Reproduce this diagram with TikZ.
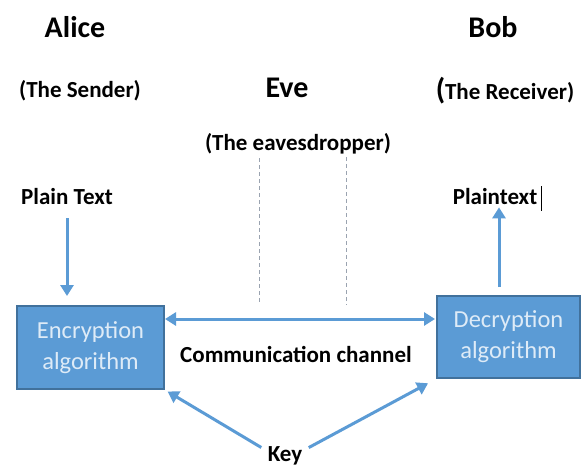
\documentclass[tikz,border=0pt]{standalone}
\usepackage{fontspec}
\setmainfont{Carlito}
\usetikzlibrary{arrows.meta}
\definecolor{boxfill}{HTML}{5B9BD5}
\definecolor{boxedge}{HTML}{41719C}
\definecolor{boxtext}{HTML}{DEEBF7}
\definecolor{arrowblue}{HTML}{5B9BD5}
\definecolor{dashgray}{HTML}{9AA3B0}
\tikzset{
  partyname/.style={font=\bfseries\fontsize{30}{32}\selectfont, inner sep=0pt},
  txtlabel/.style={font=\bfseries\fontsize{23}{26}\selectfont, inner sep=0pt},
  algobox/.style={draw=boxedge, line width=2pt, fill=boxfill, text=boxtext,
    font=\fontsize{24.5}{31}\selectfont, align=center, inner sep=0pt},
  arr/.style={draw=arrowblue, line width=3pt, -{Triangle[length=11pt,width=13pt]}},
  dblarr/.style={draw=arrowblue, line width=3pt,
    {Triangle[length=11pt,width=13pt]}-{Triangle[length=11pt,width=13pt]}},
  eveline/.style={draw=dashgray, line width=0.8pt, dash pattern=on 4pt off 3pt},
}
\begin{document}
\begin{tikzpicture}[x=1pt, y=-1pt]
\useasboundingbox[fill=white] (0,0) rectangle (583,468);

% parties
\node[partyname] (alice) at (75,27) {Alice};
\node[partyname] (bob) at (493,27) {Bob};
\node[partyname] (eve) at (287,88) {Eve};
\node[txtlabel] (sender) at (80,91) {(The Sender)};
\node[txtlabel] (receiver) at (505,91) {{\fontsize{30}{32}\selectfont(}The Receiver)};
\node[txtlabel] (eaves) at (298,144) {(The eavesdropper)};

% plain texts
\node[txtlabel] (plainL) at (67,197) {Plain Text};
\node[txtlabel] (plainR) at (495,197) {Plaintext};
\coordinate (cursor) at (541,186);
\draw[line width=0.9pt] (cursor) -- ++(0,25);

% algorithm boxes
\node[algobox, minimum width=147pt, minimum height=83pt] (enc) at (90.5,347.5)
  {Encryption\\algorithm};
\node[algobox, minimum width=143pt, minimum height=82pt] (dec) at (508.5,337)
  {Decryption\\algorithm};

\node[txtlabel] (channel) at (296,354) {Communication channel};
\node[txtlabel] (key) at (285,456) {Key};

% eavesdropping taps on the channel
\coordinate (tapA) at (259,158);
\coordinate (tapB) at (346,157);
\coordinate (ch) at (300,319);
\coordinate (upx) at (499,0);
\draw[eveline] (tapA) -- (tapA |- 0,302);
\draw[eveline] (tapB) -- (tapB |- 0,305);

% connectors
\draw[arr, shorten <=13pt, shorten >=9pt] (plainL.south) -- (plainL.south |- enc.north);
\draw[arr, shorten <=8pt, shorten >=2pt] (dec.north -| upx) -- (plainR.south -| upx);
\draw[dblarr] (enc.east |- ch) -- ([xshift=-1pt]dec.west |- ch);
\draw[arr, shorten <=2pt, shorten >=3pt] ([xshift=-22pt,yshift=-2pt]key.north) -- (enc.south east);
\draw[arr, shorten <=2pt, shorten >=9pt] ([xshift=22pt,yshift=-2pt]key.north) -- (dec.south west);
\end{tikzpicture}
\end{document}
